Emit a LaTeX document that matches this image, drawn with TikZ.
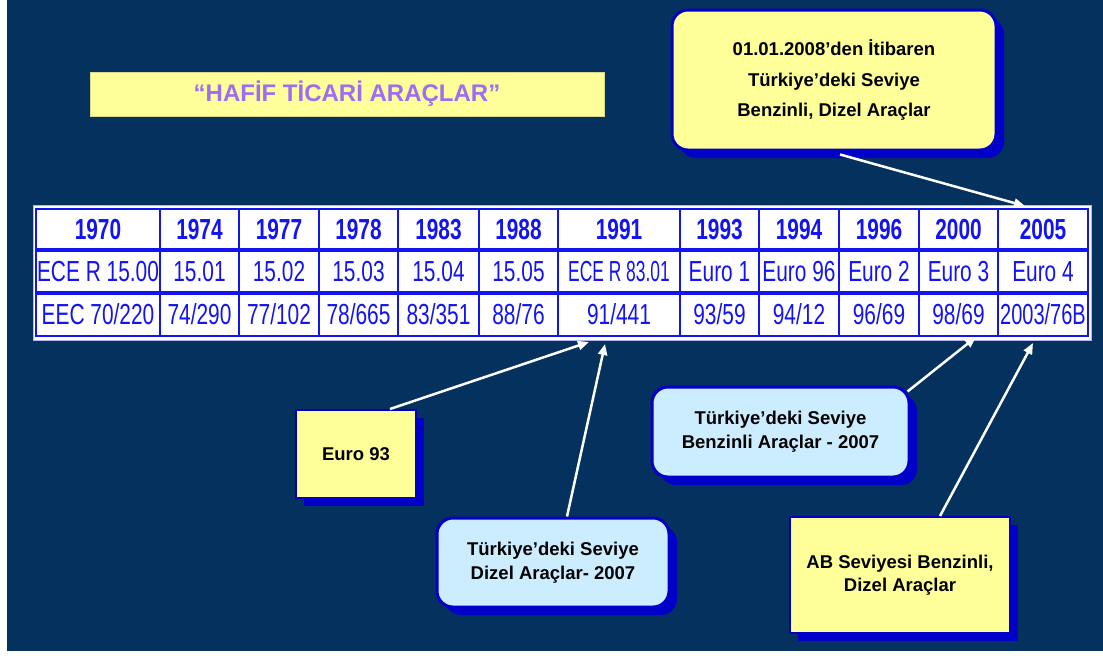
\documentclass[tikz,border=0pt]{standalone}
\usepackage{fontspec}
\setmainfont{Liberation Sans}
\newfontfamily\narrowf[FakeStretch=0.72]{Liberation Sans}
\newfontfamily\narrowmf[FakeStretch=0.69]{Liberation Sans}
\newfontfamily\narrowerf[FakeStretch=0.6]{Liberation Sans}
\usetikzlibrary{arrows.meta,shadows}
\definecolor{bg}{HTML}{04315E}
\definecolor{tblue}{HTML}{1414F0}
\definecolor{lyellow}{HTML}{FFFF99}
\definecolor{lblue}{HTML}{CCECFF}
\definecolor{sblue}{HTML}{0000C8}
\definecolor{ttl}{HTML}{9E6CF5}
\definecolor{frame}{HTML}{B4B4EC}
\tikzset{
  yr/.style={text=tblue,font=\narrowf\bfseries\fontsize{29}{32}\selectfont,inner sep=0pt},
  vl/.style={text=tblue,font=\narrowf\fontsize{29}{32}\selectfont,inner sep=0pt},
  vlm/.style={text=tblue,font=\narrowmf\fontsize{29}{32}\selectfont,inner sep=0pt},
  vlx/.style={text=tblue,font=\narrowerf\fontsize{29}{32}\selectfont,inner sep=0pt},
  shadowbox/.style={drop shadow={fill=sblue,opacity=1,shadow xshift=8pt,shadow yshift=-8pt}},
  callround/.style={shadowbox,draw=sblue,line width=3pt,rounded corners=16pt,align=center,
     font=\bfseries\fontsize{18.5}{24}\selectfont,text=black,inner sep=0pt},
  callsq/.style={shadowbox,draw=sblue,line width=2pt,fill=lyellow,align=center,
     font=\bfseries\fontsize{18.5}{23}\selectfont,text=black,inner sep=0pt},
  arr/.style={white,line width=2.5pt,-{Triangle[length=11pt,width=9pt]}},
}
\begin{document}
\begin{tikzpicture}[x=1pt,y=-1pt]
\useasboundingbox (0,0) rectangle (1103,659);
\fill[white] (0,0) rectangle (1103,659);
\fill[bg] (7,0) rectangle (1103,651);

% title
\node[fill=lyellow,draw=lyellow!70!gray,line width=0.8pt,minimum width=514pt,minimum height=44pt,
      text=ttl,font=\bfseries\fontsize{24}{28}\selectfont] (title) at (347,94) {“HAFİF TİCARİ ARAÇLAR”};

% table frame and grid
\draw[fill=white,draw=frame,line width=1pt] (33,205) rectangle (1091,340);
\draw[tblue,line width=1.8pt] (36,209) rectangle (1088,336);
\foreach \x in {160,239,319,398,479,558,680,759,839,919,998}
  \draw[tblue,line width=1.8pt] (\x,209) -- (\x,336);
\draw[tblue,line width=4.5pt] (36,250) -- (1088,250);
\draw[tblue,line width=4.5pt] (36,293) -- (1088,293);

% row 1
\node[yr] (y1970) at (98,229.5) {1970};
\node[yr] (y1974) at (199.5,229.5) {1974};
\node[yr] (y1977) at (279,229.5) {1977};
\node[yr] (y1978) at (358.5,229.5) {1978};
\node[yr] (y1983) at (438.5,229.5) {1983};
\node[yr] (y1988) at (518.5,229.5) {1988};
\node[yr] (y1991) at (619,229.5) {1991};
\node[yr] (y1993) at (719.5,229.5) {1993};
\node[yr] (y1994) at (799,229.5) {1994};
\node[yr] (y1996) at (879,229.5) {1996};
\node[yr] (y2000) at (958.5,229.5) {2000};
\node[yr] (y2005) at (1043,229.5) {2005};
% row 2
\node[vl] (e1970) at (98,271.5) {ECE R 15.00};
\node[vl] (e1974) at (199.5,271.5) {15.01};
\node[vl] (e1977) at (279,271.5) {15.02};
\node[vl] (e1978) at (358.5,271.5) {15.03};
\node[vl] (e1983) at (438.5,271.5) {15.04};
\node[vl] (e1988) at (518.5,271.5) {15.05};
\node[vlx] (e1991) at (619,271.5) {ECE R 83.01};
\node[vl] (e1993) at (719.5,271.5) {Euro 1};
\node[vl] (e1994) at (799,271.5) {Euro 96};
\node[vl] (e1996) at (879,271.5) {Euro 2};
\node[vl] (e2000) at (958.5,271.5) {Euro 3};
\node[vl] (e2005) at (1043,271.5) {Euro 4};
% row 3
\node[vl] (d1970) at (98,314.5) {EEC 70/220};
\node[vl] (d1974) at (199.5,314.5) {74/290};
\node[vl] (d1977) at (279,314.5) {77/102};
\node[vl] (d1978) at (358.5,314.5) {78/665};
\node[vl] (d1983) at (438.5,314.5) {83/351};
\node[vl] (d1988) at (518.5,314.5) {88/76};
\node[vl] (d1991) at (619,314.5) {91/441};
\node[vl] (d1993) at (719.5,314.5) {93/59};
\node[vl] (d1994) at (799,314.5) {94/12};
\node[vl] (d1996) at (879,314.5) {96/69};
\node[vl] (d2000) at (958.5,314.5) {98/69};
\node[vlm] (d2005) at (1043,314.5) {2003/76B};

% callouts
\node[callround,fill=lyellow,minimum width=324pt,minimum height=140pt,
      font=\bfseries\fontsize{18.5}{30.5}\selectfont] (top) at (834,80)
  {01.01.2008’den İtibaren\\Türkiye’deki Seviye\\Benzinli, Dizel Araçlar};
\node[callsq,minimum width=120pt,minimum height=88pt] (e93) at (356,454) {Euro 93};
\node[callround,fill=lblue,minimum width=232pt,minimum height=89pt] (dz) at (553,562.5)
  {Türkiye’deki Seviye\\Dizel Araçlar- 2007};
\node[callround,fill=lblue,minimum width=257pt,minimum height=90pt] (bz) at (780.5,432)
  {Türkiye’deki Seviye\\Benzinli Araçlar - 2007};
\node[callsq,minimum width=220pt,minimum height=116pt] (ab) at (900,575)
  {AB Seviyesi Benzinli,\\Dizel Araçlar};

% arrow targets
\coordinate (t1) at (589,342);
\coordinate (t2) at (605,344);
\coordinate (t3) at (976,337);
\coordinate (t4) at (1033,343);
\coordinate (t5) at (1025,206);

\draw[arr] ([xshift=34pt]e93.north) -- (t1);
\draw[arr] ([xshift=14pt]dz.north) -- (t2);
\draw[arr] ([xshift=-3pt,yshift=-6pt]bz.north east) -- (t3);
\draw[arr] ([xshift=40pt]ab.north) -- (t4);
\draw[arr] ([xshift=6pt,yshift=-3pt]top.south) -- (t5);
\end{tikzpicture}
\end{document}
